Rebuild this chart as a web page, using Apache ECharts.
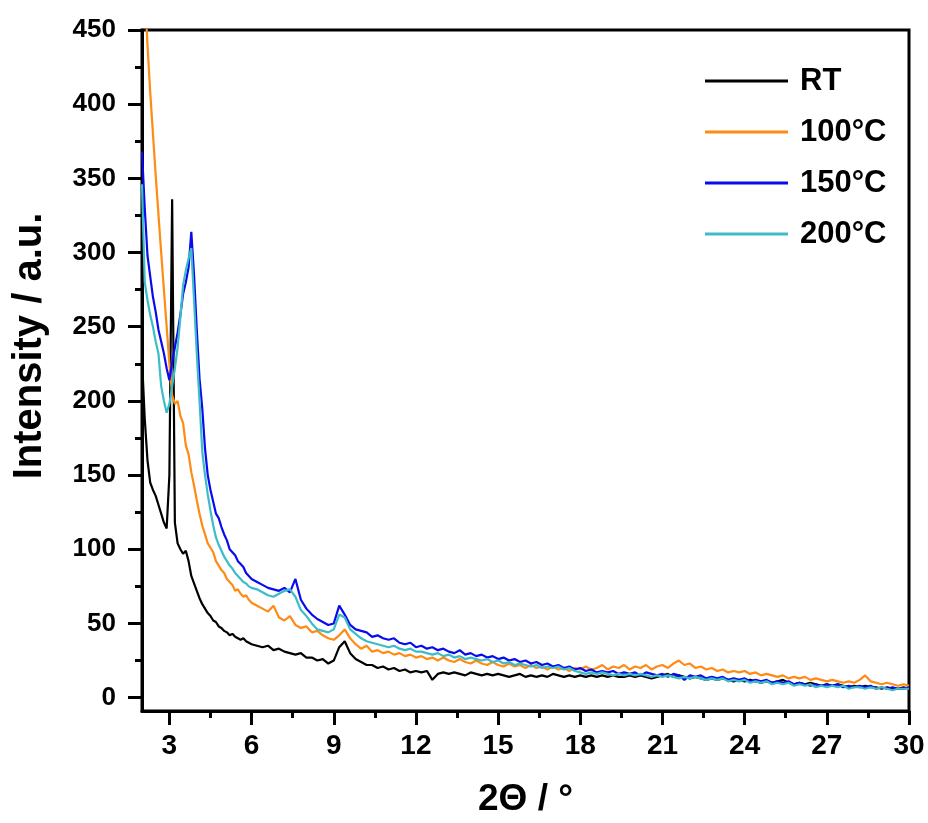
<!DOCTYPE html>
<html>
<head>
<meta charset="utf-8">
<script src="https://cdn.jsdelivr.net/npm/echarts@6/dist/echarts.min.js"></script>
<style>html,body{margin:0;padding:0;background:#fff;}#chart{width:928px;height:823px;}</style>
</head>
<body>
<div id="chart"></div>
<script>
// 2θ sampling positions (degrees)
const twoTheta = [
  2.0,2.1,2.2,2.3,2.4,2.5,2.6,2.7,2.8,2.9,
  3.0,3.1,3.2,3.3,3.4,3.5,3.6,3.7,3.8,3.9,
  4.0,4.1,4.2,4.3,4.4,4.5,4.6,4.7,4.8,4.9,
  5.0,5.1,5.2,5.3,5.4,5.5,5.6,5.7,5.8,5.9,
  6.0,
  6.2,6.4,6.6,6.8,7.0,7.2,7.4,7.6,7.8,8.0,
  8.2,8.4,8.6,8.8,9.0,9.2,9.4,9.6,9.8,10.0,
  10.2,10.4,10.6,10.8,11.0,11.2,11.4,11.6,11.8,12.0,
  12.2,12.4,12.6,12.8,13.0,13.2,13.4,13.6,13.8,14.0,
  14.2,14.4,14.6,14.8,15.0,15.2,15.4,15.6,15.8,16.0,
  16.2,16.4,16.6,16.8,17.0,17.2,17.4,17.6,17.8,18.0,
  18.2,18.4,18.6,18.8,19.0,19.2,19.4,19.6,19.8,20.0,
  20.2,20.4,20.6,20.8,21.0,21.2,21.4,21.6,21.8,22.0,
  22.2,22.4,22.6,22.8,23.0,23.2,23.4,23.6,23.8,24.0,
  24.2,24.4,24.6,24.8,25.0,25.2,25.4,25.6,25.8,26.0,
  26.2,26.4,26.6,26.8,27.0,27.2,27.4,27.6,27.8,28.0,
  28.2,28.4,28.6,28.8,29.0,29.2,29.4,29.6,29.8,30.0
];

const rtValues = [
  228,188,160,145,140,136,130,124,118,114,
  150,336,118,104,100,97,99,92,82,77,
  72,67,63,60,57,55,52,51,48,47,
  45,44,42,43,41,40,39,40,38,37,
  36,
  35,34,35,32,33,31,30,29,30,27,
  27,25,26,23,25,34,38,30,26,24,
  22,22,20,21,19,20,18,19,17,18,
  17,18,12,16,17,16,17,16,15,17,
  16,15,16,15,16,15,14,15,16,14,
  15,14,15,14,16,15,14,15,14,15,
  14,15,14,15,14,15,14,14,15,14,
  15,14,13,14,15,16,14,15,14,13,
  14,13,12,13,12,13,12,11,12,11,
  12,11,10,11,10,11,12,10,9,10,
  9,10,9,8,9,8,9,8,7,8,
  7,8,7,7,6,7,6,6,7,6
];

const c100Values = [
  520,478,440,408,380,352,326,300,275,250,
  225,204,198,200,190,185,170,164,152,143,
  133,124,116,110,104,101,98,92,89,86,
  84,80,78,76,72,73,70,68,69,66,
  64,
  62,60,58,62,54,52,55,49,47,48,
  44,45,42,40,39,42,46,40,36,33,
  35,31,32,30,31,29,30,28,29,27,
  28,26,27,25,27,25,24,26,24,23,
  25,23,22,24,22,21,23,21,22,20,
  22,20,21,19,21,19,20,18,20,19,
  21,19,20,22,19,21,20,22,19,21,
  20,22,19,21,22,20,23,25,22,23,
  20,21,19,20,18,19,17,18,17,18,
  16,17,15,16,15,14,15,13,14,13,
  14,12,13,12,11,12,11,10,11,10,
  12,15,11,10,9,10,9,8,9,8
];

const c150Values = [
  368,330,298,284,270,260,248,240,232,222,
  214,226,236,246,258,272,280,290,314,285,
  248,215,195,168,150,140,132,124,121,115,
  110,106,100,98,96,92,90,88,84,82,
  80,
  78,76,74,73,72,74,71,80,66,60,
  56,53,51,49,50,62,56,49,46,45,
  44,41,42,40,39,40,37,36,37,34,
  35,33,34,32,33,31,30,32,29,30,
  28,29,27,28,26,27,25,26,24,25,
  23,24,22,23,21,22,20,21,19,20,
  18,19,17,18,17,18,16,17,16,17,
  15,17,16,15,16,14,16,15,12,15,
  14,15,13,14,13,14,12,13,12,13,
  11,12,11,12,10,11,10,11,9,10,
  9,8,9,8,9,8,9,7,8,7,
  8,7,8,6,7,6,7,6,6,7
];

const c200Values = [
  346,280,268,258,250,240,232,210,200,192,
  198,210,222,236,256,278,288,296,303,268,
  232,200,166,150,137,126,116,108,103,99,
  95,92,89,87,84,82,80,78,77,75,
  74,
  73,71,69,68,70,72,73,68,59,55,
  50,46,45,44,46,56,54,46,43,40,
  38,37,36,35,34,35,33,32,33,31,
  31,30,29,30,28,29,27,28,26,27,
  26,25,26,24,25,23,24,22,23,22,
  21,22,20,21,20,21,19,20,18,17,
  16,17,16,17,16,15,16,15,16,15,
  16,15,14,15,14,15,14,13,14,13,
  14,13,12,13,12,13,11,12,11,12,
  10,11,10,11,9,10,9,10,8,9,
  8,9,7,8,7,8,7,8,6,7,
  7,6,7,6,7,6,5,6,6,6
];

const seriesNames = ['RT', '100°C', '150°C', '200°C'];
const seriesColors = ['#000000', '#FF8A14', '#0A0AEE', '#3CBCC8'];
const seriesValues = [rtValues, c100Values, c150Values, c200Values];

const xMajorTicks = [3,6,9,12,15,18,21,24,27,30];
const xMinorTicks = [4.5,7.5,10.5,13.5,16.5,19.5,22.5,25.5,28.5];
const yMajorTicks = [0,50,100,150,200,250,300,350,400,450];
const yMinorTicks = [25,75,125,175,225,275,325,375,425];

const FONT = '"Liberation Sans", Arial, Helvetica, sans-serif';

const chart = echarts.init(document.getElementById('chart'), null, {renderer: 'canvas'});

const series = seriesNames.map((name, k) => ({
  name: name,
  type: 'line',
  xAxisIndex: 0,
  yAxisIndex: 0,
  showSymbol: false,
  symbol: 'none',
  clip: true,
  lineStyle: {color: seriesColors[k], width: 2.2},
  itemStyle: {color: seriesColors[k]},
  data: twoTheta.map((x, i) => [x, seriesValues[k][i]])
}));

const option = {
  animation: false,
  backgroundColor: '#ffffff',
  grid: {left: 142, right: 19, top: 30, bottom: 111, show: true, borderColor: '#000', borderWidth: 3, backgroundColor: 'transparent'},
  legend: {
    orient: 'vertical',
    left: 700,
    top: 60,
    icon: 'rect',
    itemWidth: 83,
    itemHeight: 3,
    itemGap: 19,
    data: seriesNames,
    textStyle: {
      fontSize: 31, fontWeight: 'bold', color: '#000', fontFamily: FONT, lineHeight: 32,
      padding: [0, 0, 0, 7]
    }
  },
  xAxis: [
    {
      type: 'value', min: 2, max: 30, position: 'bottom',
      axisLine: {show: true, onZero: false, lineStyle: {color: '#000', width: 3}},
      axisTick: {show: true, length: 14, lineStyle: {color: '#000', width: 3}, customValues: xMajorTicks},
      axisLabel: {customValues: xMajorTicks, fontSize: 28, fontWeight: 'bold', color: '#000', margin: 21, fontFamily: FONT},
      splitLine: {show: false},
      name: '2Θ / °', nameLocation: 'middle', nameGap: 70,
      nameTextStyle: {fontSize: 37, fontWeight: 'bold', color: '#000', fontFamily: FONT}
    },
    {
      type: 'value', min: 2, max: 30, position: 'bottom',
      axisLine: {show: false, onZero: false},
      axisTick: {show: true, length: 7, lineStyle: {color: '#000', width: 3}, customValues: xMinorTicks},
      axisLabel: {show: false},
      splitLine: {show: false}
    }
  ],
  yAxis: [
    {
      type: 'value', min: -9, max: 450, position: 'left',
      axisLine: {show: true, onZero: false, lineStyle: {color: '#000', width: 3}},
      axisTick: {show: true, length: 14, lineStyle: {color: '#000', width: 3}, customValues: yMajorTicks},
      axisLabel: {customValues: yMajorTicks, fontSize: 26, fontWeight: 'bold', color: '#000', margin: 26, fontFamily: FONT},
      splitLine: {show: false}
    },
    {
      type: 'value', min: -9, max: 450, position: 'left',
      axisLine: {show: false, onZero: false},
      axisTick: {show: true, length: 7, lineStyle: {color: '#000', width: 3}, customValues: yMinorTicks},
      axisLabel: {show: false},
      splitLine: {show: false}
    }
  ],
  graphic: [{
    type: 'text', x: 30, y: 346, rotation: Math.PI / 2, silent: true,
    style: {text: 'Intensity / a.u.', font: 'bold 40px ' + FONT, fill: '#000',
      align: 'center', verticalAlign: 'middle', textAlign: 'center', textVerticalAlign: 'middle'}
  }],
  series: series
};

chart.setOption(option);
</script>
</body>
</html>
